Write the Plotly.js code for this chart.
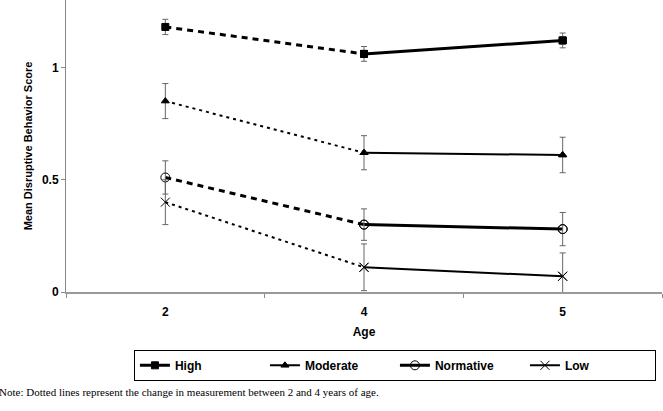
<!DOCTYPE html>
<html>
<head>
<meta charset="utf-8">
<script src="https://cdn.plot.ly/plotly-3.0.1.min.js"></script>
<style>html,body{margin:0;padding:0;background:#fff;}#chart{width:663px;height:411px;}</style>
</head>
<body>
<div id="chart"></div>
<script>
// ---- data ----
var ages = ['2', '4', '5'];
var groups = ['High', 'Moderate', 'Normative', 'Low'];
var highMean = [1.18, 1.06, 1.12];
var highErr = [0.034, 0.033, 0.033];
var moderateMean = [0.85, 0.62, 0.61];
var moderateErr = [0.078, 0.076, 0.079];
var normativeMean = [0.51, 0.30, 0.28];
var normativeErr = [0.074, 0.070, 0.074];
var lowMean = [0.40, 0.11, 0.07];
var lowErr = [0.10, 0.104, 0.104];
var noteText = 'Note: Dotted lines represent the change in measurement between 2 and 4 years of age.';

// ---- styles ----
var bold = {family: 'Liberation Sans, Arial, sans-serif', size: 12, color: '#000', weight: 700};
var series = [
  {name: groups[0], y: highMean, e: highErr, symbol: 'square', size: 7, width: 3, dash: '6px,5px'},
  {name: groups[1], y: moderateMean, e: moderateErr, symbol: 'triangle-up', size: 7, width: 2, dash: '3px,4px'},
  {name: groups[2], y: normativeMean, e: normativeErr, symbol: 'circle-open', size: 9, width: 3, dash: '6px,5px'},
  {name: groups[3], y: lowMean, e: lowErr, symbol: 'x-thin-open', size: 9, width: 2, dash: '3px,4px'}
];

var traces = [];
series.forEach(function (s) {
  // dashed segment 2 -> 4
  traces.push({
    type: 'scatter', mode: 'lines', x: ages.slice(0, 2), y: s.y.slice(0, 2),
    line: {color: '#000', width: s.width, dash: s.dash}, showlegend: false, hoverinfo: 'skip'
  });
  // solid segment 4 -> 5 (legend entry)
  traces.push({
    type: 'scatter', mode: 'lines+markers', x: ages.slice(1), y: s.y.slice(1), name: s.name,
    line: {color: '#000', width: s.width},
    marker: {symbol: s.symbol, size: s.size, color: '#000', line: {color: '#000', width: 1}},
    showlegend: true
  });
  // markers with error bars at all ages
  traces.push({
    type: 'scatter', mode: 'markers', x: ages, y: s.y, showlegend: false,
    marker: {symbol: s.symbol, size: s.size, color: '#000', line: {color: '#000', width: 1}},
    error_y: {type: 'data', array: s.e, visible: true, color: '#666', thickness: 1, width: 3}
  });
});

var layout = {
  width: 663, height: 411,
  margin: {l: 66, r: 1, t: 0, b: 119, pad: 0},
  paper_bgcolor: '#fff', plot_bgcolor: '#fff',
  showlegend: true,
  font: {family: 'Liberation Sans, Arial, sans-serif', color: '#000'},
  xaxis: {
    type: 'category', categoryorder: 'array', categoryarray: ages,
    range: [-0.5, 2.5], tickson: 'boundaries',
    ticks: 'outside', ticklen: 4, tickcolor: '#888', tickwidth: 1,
    showline: true, linecolor: '#999', linewidth: 2,
    showgrid: false, zeroline: false, tickfont: bold, ticklabelstandoff: 8,
    title: {text: 'Age', font: bold, standoff: 9}
  },
  yaxis: {
    range: [0, 1.3], tickvals: [0, 0.5, 1], ticktext: ['0', '0.5', '1'],
    ticks: 'outside', ticklen: 4, tickcolor: '#888', tickwidth: 1,
    showline: true, linecolor: '#888', linewidth: 1,
    showgrid: false, zeroline: false, tickfont: bold,
    title: {text: 'Mean Disruptive Behavior Score', font: {family: bold.family, size: 11, color: '#000', weight: 700}, standoff: 7}
  },
  legend: {
    orientation: 'h', x: 0.114, xanchor: 'left', y: -0.198, yanchor: 'top',
    bordercolor: '#000', borderwidth: 1, bgcolor: '#fff',
    font: bold, entrywidth: 85, entrywidthmode: 'pixels', traceorder: 'normal'
  },
  annotations: [{
    text: noteText, xref: 'paper', yref: 'paper', x: -0.1157, y: -0.342,
    xanchor: 'left', yanchor: 'middle', showarrow: false,
    font: {family: 'Liberation Serif, Times New Roman, serif', size: 11, color: '#000'}
  }]
};

Plotly.newPlot('chart', traces, layout, {displayModeBar: false, staticPlot: true});
</script>
</body>
</html>
